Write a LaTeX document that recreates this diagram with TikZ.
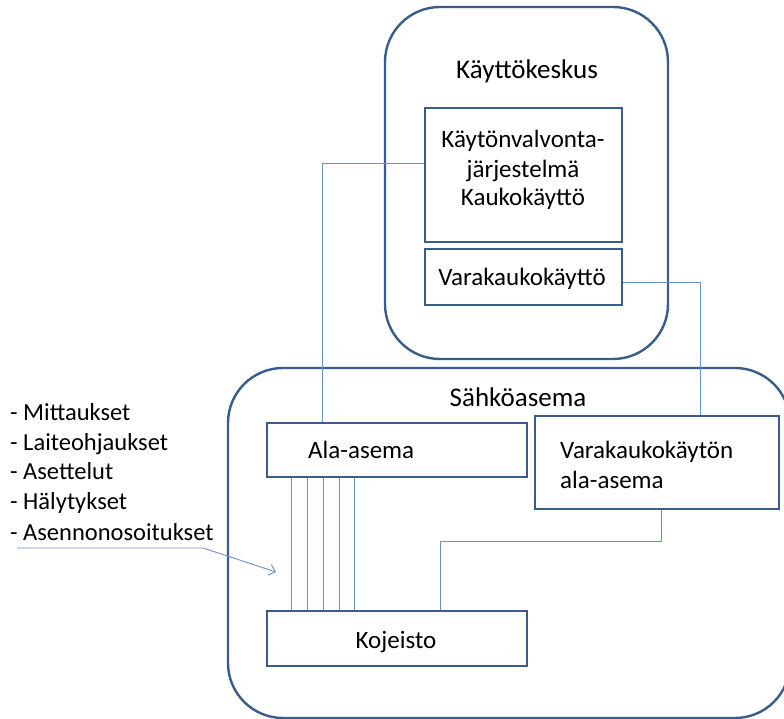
\documentclass[tikz,border=0pt]{standalone}
\usepackage{fontspec}
\setmainfont{Carlito}
\usetikzlibrary{arrows.meta}
\definecolor{bord}{RGB}{56,93,138}
\definecolor{conn}{RGB}{110,145,190}
\begin{document}
\begin{tikzpicture}[x=1pt,y=-1pt,
  frame/.style={draw=bord, line width=2.4pt, rounded corners=55pt, inner sep=0pt},
  box/.style={draw=bord, line width=2.4pt, inner sep=0pt},
  wire/.style={draw=conn, line width=0.9pt},
  txt/.style={font=\fontsize{25}{29}\selectfont, inner sep=0pt, anchor=base},
  ttl/.style={font=\fontsize{27}{31}\selectfont, inner sep=0pt, anchor=base},
  ltxt/.style={txt, anchor=base west},
  lst/.style={font=\fontsize{24.5}{30}\selectfont, inner sep=0pt, anchor=base west}]
\useasboundingbox (0,0) rectangle (784,719);
% frames
\node[frame, minimum width=283pt, minimum height=352pt] (kk) at (526.5,183) {};
\node[frame, minimum width=562pt, minimum height=350pt] (sa) at (509,543) {};
% titles
\node[ttl] (kkt) at (527,79) {Käyttökeskus};
\node[ttl] (sat) at (518,406) {Sähköasema};
% boxes
\node[box, minimum width=197pt, minimum height=134pt] (kv) at (523.5,175) {};
\node[txt] (kv1) at (523,148) {Käytönvalvonta-};
\node[txt] (kv2) at (523,178) {järjestelmä};
\node[txt] (kv3) at (523,206) {Kaukokäyttö};
\node[box, minimum width=197pt, minimum height=56pt] (vk) at (523.5,277) {};
\node[txt] (vkt) at (522,285) {Varakaukokäyttö};
\node[box, minimum width=260pt, minimum height=54pt] (aa) at (397,450) {};
\node[ltxt] (aat) at (308,458) {Ala-asema};
\node[box, minimum width=244pt, minimum height=93pt] (vaa) at (657,462.5) {};
\node[ltxt] (vaa1) at (560,458) {Varakaukokäytön};
\node[ltxt] (vaa2) at (560,488) {ala-asema};
\node[box, minimum width=260pt, minimum height=55pt] (ko) at (397,638.5) {};
\node[txt] (kot) at (396,648) {Kojeisto};
% connectors
\draw[wire] ([yshift=12pt]kv.west) -| ([xshift=-75pt]aa.north);
\draw[wire] ([yshift=-5pt]vk.east) -| ([xshift=43pt]vaa.north);
\draw[wire] ([xshift=4pt]vaa.south) -- ++(0,31) -| ([xshift=43pt]ko.north);
\foreach \dx in {-106,-90,-74,-58,-43}
  \draw[wire] ([xshift=\dx pt]aa.south) -- ([xshift=\dx pt]ko.north);
% list
\node[lst] (l1) at (10,420) {- Mittaukset};
\node[lst] (l2) at (10,450) {- Laiteohjaukset};
\node[lst] (l3) at (10,479) {- Asettelut};
\node[lst] (l4) at (10,509) {- Hälytykset};
\node[lst] (l5) at (10,540) {- Asennonosoitukset};
\coordinate (as) at (17,548);
\coordinate (ab) at (203,548);
\coordinate (at) at (276,572);
\draw[wire, -{Straight Barb[length=6pt,width=11pt]}] (as) -- (ab) -- (at);
\end{tikzpicture}
\end{document}
